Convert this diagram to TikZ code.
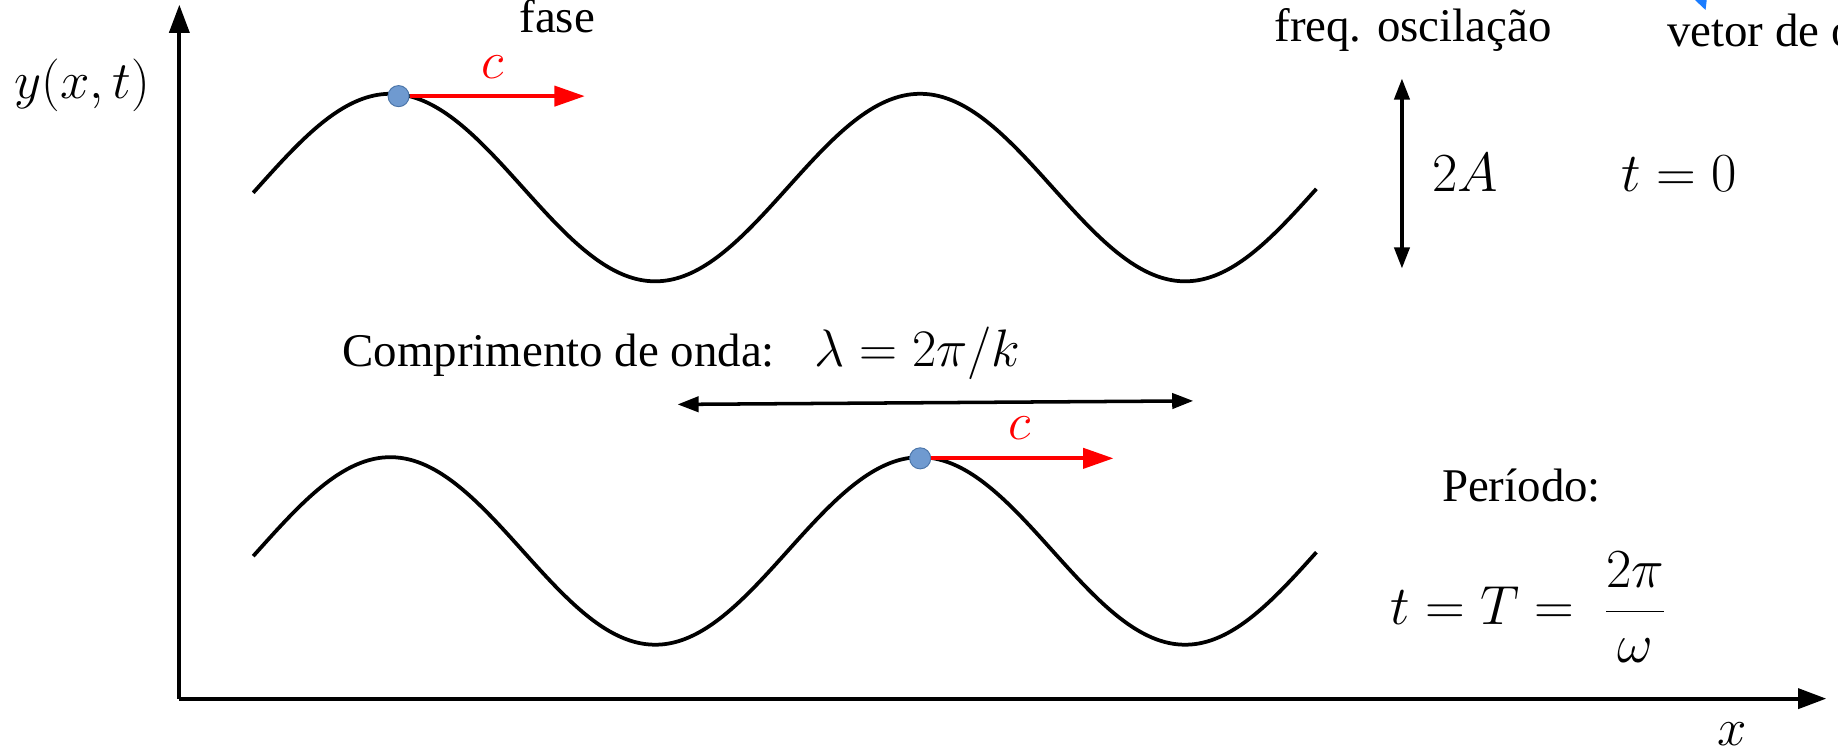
\RequirePackage{fix-cm}
\documentclass[tikz,border=0pt]{standalone}
\usepackage{fontspec}
\setmainfont{Liberation Serif}
\usetikzlibrary{arrows.meta,shapes.geometric}
\definecolor{dotfill}{HTML}{6F9AD0}
\definecolor{dotline}{HTML}{4A74A8}
\definecolor{tipblue}{HTML}{1A7CFF}
\tikzset{
  txt/.style={font=\fontsize{40}{48}\selectfont, inner sep=0pt},
  mth/.style={font=\fontsize{45}{54}\selectfont, inner sep=0pt},
  bigmth/.style={font=\fontsize{47}{56}\selectfont, inner sep=0pt},
  wave/.style={line width=3.2pt},
  axisline/.style={line width=3.2pt, -{Triangle[length=24pt,width=17pt]}},
  dblarrow/.style={line width=3pt, {Triangle[length=18pt,width=13pt]}-{Triangle[length=18pt,width=13pt]}},
  vel/.style={red, line width=3.6pt, -{Triangle[length=26pt,width=17pt]}},
  crest/.style={ellipse, draw=dotline, fill=dotfill, line width=0.8pt, minimum width=18pt, minimum height=18pt, inner sep=0pt},
}
\begin{document}
\begin{tikzpicture}[x=1pt,y=-1pt]
\useasboundingbox (0,0) rectangle (1568,641);
% axes
\coordinate (O) at (153,596);
\coordinate (ytip) at (153,4);
\coordinate (xtip) at (1558,596);
\draw[axisline] (O) -- (ytip);
\draw[axisline] (O) -- (xtip);
\node[mth, anchor=base west] (ylab) at (12,84) {$y(x,t)$};
\node[mth, anchor=base] (xlab) at (1478,636) {$x$};
% waves
\draw[wave] plot[domain=216:1123, samples=240, smooth] (\x, {160-80*cos((\x-333)/452*360)});
\draw[wave] plot[domain=216:1123, samples=240, smooth] (\x, {470-80*cos((\x-333)/452*360)});
% crests and velocity
\node[crest] (dot1) at (340,82) {};
\coordinate (v1) at (499,82);
\draw[vel] (dot1.east) -- (v1);
\node[mth, red, anchor=base] (c1) at (420,67) {$c$};
\node[crest] (dot2) at (785,391) {};
\coordinate (v2) at (950,391);
\draw[vel] (dot2.east) -- (v2);
\node[mth, red, anchor=base] (c2) at (870,375) {$c$};
% wavelength
\coordinate (la) at (578,345);
\coordinate (lb) at (1018,342);
\draw[dblarrow] (la) -- (lb);
\node[txt, anchor=base west] (comp) at (292,313) {Comprimento de onda:};
\node[mth, anchor=base west] (lam) at (695,313) {$\lambda = 2\pi/k$};
% amplitude
\coordinate (aa) at (1196,67);
\coordinate (ab) at (1196,229);
\draw[dblarrow] (aa) -- (ab);
\node[bigmth, anchor=base west] (amp) at (1222,163) {$2A$};
\node[bigmth, anchor=base west] (t0) at (1383,163) {$t = 0$};
% period
\node[txt, anchor=base west] (per) at (1230,428) {Período:};
\node[bigmth, anchor=west] (tT) at (1186,518) {$\displaystyle t = T = \;\frac{2\pi}{\omega}$};
% top labels
\node[txt, anchor=base west] (fase) at (443,28) {fase};
\node[txt, anchor=base west] (freq) at (1087,35) {freq. oscilação};
\node[txt, anchor=base west] (vetor) at (1422,40) {vetor de onda};
\fill[tipblue] (1446,0) -- (1456,0) -- (1455,8.5) -- cycle;
\end{tikzpicture}
\end{document}
